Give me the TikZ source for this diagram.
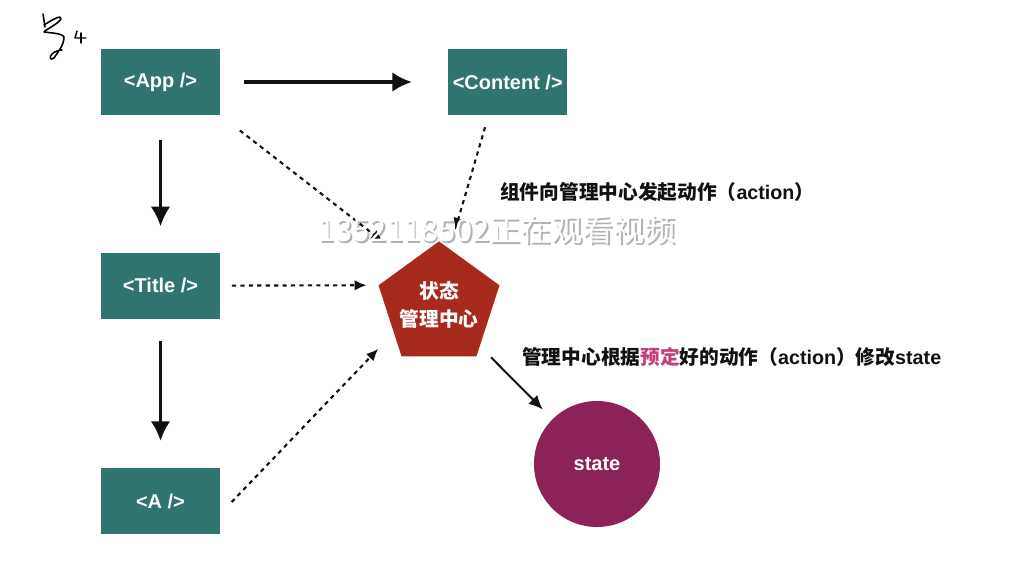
\documentclass[tikz,border=0pt]{standalone}
\usepackage{fontspec}
\setmainfont{Liberation Sans}
\newfontfamily\cjk{Noto Sans CJK SC}
\usetikzlibrary{arrows.meta, positioning, shapes.geometric, calc}
\definecolor{rxteal}{HTML}{2F746F}
\definecolor{rxred}{HTML}{A72A1C}
\definecolor{rxplum}{HTML}{8C2358}
\definecolor{rxpink}{HTML}{C2407E}
\definecolor{rxdark}{HTML}{111111}
\newcommand{\lat}[1]{{\rmfamily\bfseries #1}}
\tikzset{
  comp/.style={rectangle, fill=rxteal, minimum width=2.975cm, minimum height=1.65cm, inner sep=0pt,
    font=\fontsize{14.2}{17}\selectfont\bfseries, text=white},
  hub/.style={regular polygon, regular polygon sides=5, minimum size=3.18cm, inner sep=-12pt, fill=rxred,
    font=\cjk\fontsize{14}{19.5}\selectfont\bfseries, text=white, align=center},
  store/.style={circle, minimum size=3.15cm, inner sep=0pt, fill=rxplum,
    font=\fontsize{14.2}{17}\selectfont\bfseries, text=white},
  note/.style={font=\cjk\fontsize{14}{17}\selectfont\bfseries, text=rxdark, inner sep=0pt},
  wmark/.style={font=\cjk\fontsize{22}{26}\selectfont, inner sep=0pt},
  arr/.style={-{Latex[length=14pt,width=14pt]}, line width=2.2pt, rxdark},
  dasharr/.style={-{Latex[length=8.5pt,width=7.5pt]}, line width=1.5pt, dash pattern=on 3pt off 3pt, rxdark},
  thinarr/.style={-{Latex[length=10pt,width=9pt]}, line width=1.4pt, rxdark},
  hand/.style={line width=1.1pt, line cap=round, line join=round, black},
}

\begin{document}
\begin{tikzpicture}[x=0.025cm, y=-0.025cm]
  \useasboundingbox[fill=white] (0,0) rectangle (1028,586);

  % components
  \node[comp] (App) at (160.5,82) {<App />};
  \node[comp, right=5.69cm of App] (Content) {<Content />};
  \node[comp, below=3.425cm of App] (Title) {<Title />};
  \node[comp, below=3.725cm of Title] (A) {<A />};

  % store
  \node[hub] (hub) at (439,305) {状态\\管理中心};
  \coordinate (hubmid) at ($(hub.corner 2)!.5!(hub.corner 5)$);
  \node[store] (state) at (597,464) {state};

  \node[note, anchor=west] (act) at (500,192) {组件向管理中心发起动作（\lat{action}）};
  \node[note, anchor=west] (mod) at (522,357) {管理中心根据\textcolor{rxpink}{预定}好的动作（\lat{action}）修改\lat{state}};

  \draw[arr, shorten <=0.6cm, shorten >=0.9cm] (App) -- (Content);
  \draw[arr, shorten <=0.625cm, shorten >=0.65cm] (App) -- (Title);
  \draw[arr, shorten <=0.55cm, shorten >=0.675cm] (Title) -- (A);

  \draw[dasharr, shorten <=0.62cm, shorten >=1.775cm] (App.south east) -- (hubmid);
  \draw[dasharr, shorten <=0.31cm, shorten >=1.44cm] (Content.240) -- (hubmid);
  \draw[dasharr, shorten <=0.29cm, shorten >=0.29cm] (Title.east) -- (hub.corner 2);
  \draw[dasharr, shorten <=0.41cm, shorten >=2.2cm] (A.-12) -- (hubmid);
  \draw[thinarr, shorten <=0.39cm, shorten >=0.34cm] (hub) -- (state);

  % handwriting
  \draw[hand] (43,14) -- (45,27);
  \draw[hand] (44,25) .. controls (52,20) and (62,14) .. (61,19)
    .. controls (58,24) and (45,30) .. (44,32)
    .. controls (50,33) and (62,33) .. (64,37)
    .. controls (64,45) and (58,52) .. (54,58)
    .. controls (50,61) and (49,57) .. (52,54)
    .. controls (55,51) and (60,50) .. (62,50);
  \draw[hand, line width=1pt] (77,31) -- (75,38) -- (86,38);
  \draw[hand, line width=1pt] (81,33) -- (81,43);

  % overlay
  \node[wmark, text=black, opacity=0.3] (markshade) at (498.5,231.5) {1352118502正在观看视频};
  \node[wmark, text=white] (mark) at (497,230) {1352118502正在观看视频};
\end{tikzpicture}
\end{document}
